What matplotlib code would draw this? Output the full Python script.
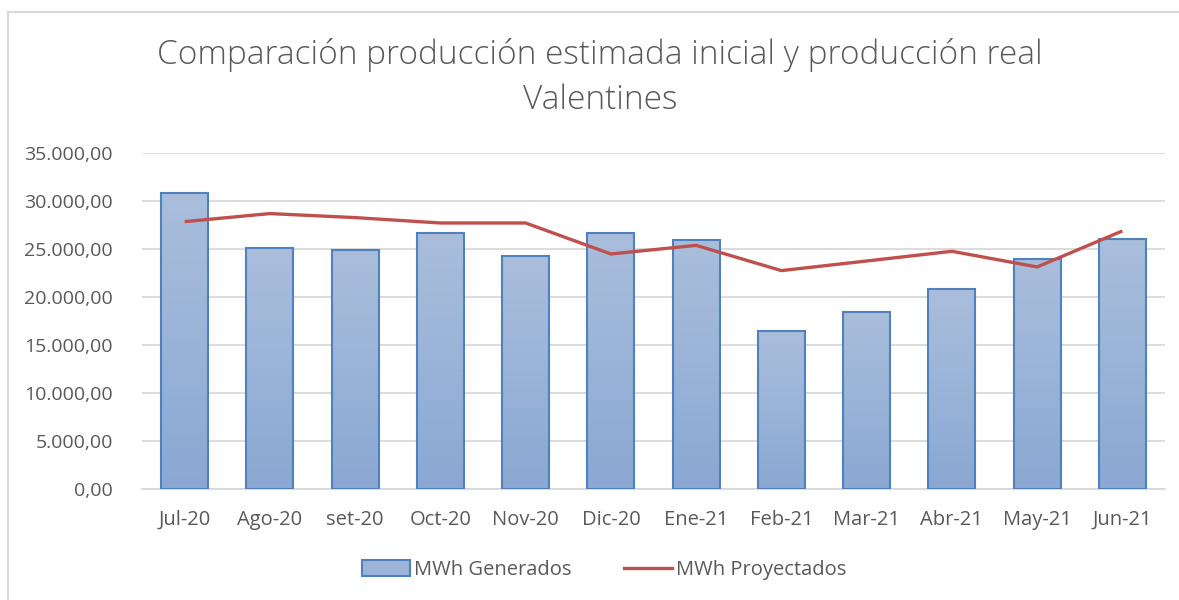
import matplotlib
matplotlib.use("Agg")
import matplotlib.pyplot as plt
import numpy as np
from matplotlib.patches import Rectangle, Patch
from matplotlib.lines import Line2D
from matplotlib.ticker import FuncFormatter
from matplotlib.colors import LinearSegmentedColormap

months = ["Jul-20", "Ago-20", "set-20", "Oct-20", "Nov-20", "Dic-20",
          "Ene-21", "Feb-21", "Mar-21", "Abr-21", "May-21", "Jun-21"]
generados = [30830, 25070, 24900, 26640, 24240, 26670,
             25900, 16500, 18440, 20800, 23960, 26080]
proyectados = [27850, 28690, 28270, 27710, 27710, 24480,
               25380, 22750, 23750, 24760, 23130, 26880]
yticks = [0, 5000, 10000, 15000, 20000, 25000, 30000, 35000]

plt.rcParams['font.family'] = ['Open Sans', 'DejaVu Sans']
gray = '#595959'

fig = plt.figure(figsize=(11.79, 6.0), dpi=100)
W, H = 1179, 600
ax = fig.add_axes([142 / W, 1 - 489 / H, (1165 - 142) / W, (489 - 153) / H])

x = np.arange(len(months))
bars = ax.bar(x, generados, width=0.55, color='none', edgecolor='#4F81BD',
              linewidth=1.5, zorder=3, label='MWh Generados')

# gradient fill clipped to each bar
grad = np.linspace(0, 1, 256).reshape(-1, 1)
cmap = LinearSegmentedColormap.from_list('g', ['#8AA8D3', '#AABEDC'])
for b in bars:
    x0, y0 = b.get_x(), b.get_y()
    w, h = b.get_width(), b.get_height()
    im = ax.imshow(grad, extent=[x0, x0 + w, y0, y0 + h], aspect='auto',
                   cmap=cmap, origin='lower', zorder=2.5)
    im.set_clip_path(b)

ax.plot(x, proyectados, color='#C0504D', linewidth=2.4, zorder=4,
        label='MWh Proyectados', solid_capstyle='butt')

ax.set_xlim(-0.5, len(months) - 0.5)
ax.set_ylim(0, 35000)
ax.set_yticks(yticks)
ax.yaxis.set_major_formatter(FuncFormatter(
    lambda v, p: f"{v:,.2f}".replace(",", "X").replace(".", ",").replace("X", ".")))
ax.set_xticks(x)
ax.set_xticklabels(months)
ax.tick_params(axis='both', length=0, labelcolor=gray)
ax.tick_params(axis='y', pad=21, labelsize=14)
ax.tick_params(axis='x', pad=15, labelsize=14.5)
ax.grid(axis='y', color='#D9D9D9', linewidth=1.3, zorder=0)
ax.set_axisbelow(True)
for s in ['top', 'right', 'left']:
    ax.spines[s].set_visible(False)
ax.spines['bottom'].set_color('#D9D9D9')
ax.spines['bottom'].set_linewidth(1.3)

fig.text(600 / W, 1 - 55 / H, "Comparación producción estimada inicial y producción real",
         ha='center', va='center', fontsize=24, color=gray, fontweight='light')
fig.text(600 / W, 1 - 100 / H, "Valentines", ha='center', va='center',
         fontsize=24, color=gray, fontweight='light')

# legend
handles = [Patch(facecolor='#9DB4D8', edgecolor='#4F81BD', linewidth=1.5),
           Line2D([0], [0], color='#C0504D', linewidth=2.4)]
leg = fig.legend(handles, ['MWh Generados', 'MWh Proyectados'],
                 loc='center', bbox_to_anchor=(604 / W, 1 - 570 / H), ncol=2,
                 frameon=False, fontsize=14.5, labelcolor=gray,
                 handlelength=2.4, handleheight=0.8, handletextpad=0.2,
                 columnspacing=2.6)

# outer chart border (cropped at right and bottom)
fig.patches.append(Rectangle((8 / W, -0.1), 1.2, 1.1 - 12 / H,
                             transform=fig.transFigure, fill=False,
                             edgecolor='#D9D9D9', linewidth=1.5))

fig.savefig('out.png', dpi=100)
